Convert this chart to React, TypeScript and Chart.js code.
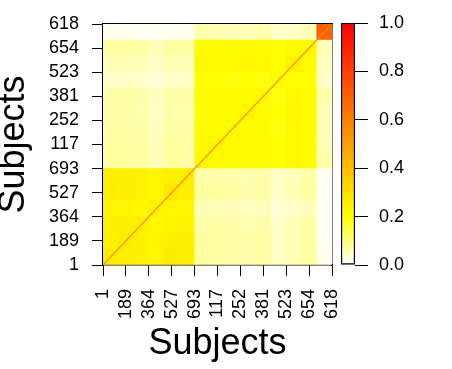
import { useEffect, useRef } from 'react';
import { Chart, registerables } from 'chart.js';

Chart.register(...registerables);

const FONT = "'Liberation Sans', Arial, Helvetica, sans-serif";

// Tick positions (in segment units along the subject ordering) and their labels
const subjectTickPos = [0, 1.5, 3, 4.5, 6, 7.5, 9, 10.5, 12, 13.5, 15];
const subjectTickLabels = ['1', '189', '364', '527', '693', '117', '252', '381', '523', '654', '618'];

// Colour bar ticks
const cbTickPos = [0, 0.2, 0.4, 0.6, 0.8, 1.0];
const cbTickLabels = ['0.0', '0.2', '0.4', '0.6', '0.8', '1.0'];

// Colour map stops (value -> rgb)
const cmapStops = [0, 0.2, 1];
const cmapColors = [
  [255, 255, 255],
  [255, 255, 0],
  [255, 0, 0],
];

// Similarity matrix, 15 x 15 blocks of subjects (rows bottom -> top, columns left -> right)
const heat: number[][] = [
  [0.26, 0.25, 0.24, 0.23, 0.26, 0.25, 0.075, 0.074, 0.070, 0.066, 0.070, 0.044, 0.058, 0.074, 0.015],
  [0.25, 0.26, 0.25, 0.23, 0.25, 0.25, 0.077, 0.072, 0.069, 0.067, 0.071, 0.045, 0.060, 0.075, 0.012],
  [0.24, 0.25, 0.25, 0.22, 0.24, 0.24, 0.070, 0.069, 0.066, 0.062, 0.066, 0.041, 0.056, 0.070, 0.010],
  [0.23, 0.23, 0.22, 0.24, 0.23, 0.23, 0.055, 0.055, 0.052, 0.049, 0.052, 0.032, 0.044, 0.055, 0.010],
  [0.26, 0.25, 0.24, 0.23, 0.27, 0.25, 0.075, 0.076, 0.071, 0.065, 0.069, 0.043, 0.059, 0.073, 0.012],
  [0.25, 0.25, 0.24, 0.23, 0.25, 0.26, 0.069, 0.070, 0.067, 0.062, 0.067, 0.042, 0.055, 0.069, 0.012],
  [0.075, 0.077, 0.070, 0.055, 0.075, 0.069, 0.22, 0.22, 0.21, 0.21, 0.21, 0.20, 0.22, 0.21, 0.065],
  [0.074, 0.072, 0.069, 0.055, 0.076, 0.070, 0.22, 0.23, 0.21, 0.21, 0.21, 0.20, 0.22, 0.21, 0.060],
  [0.070, 0.069, 0.066, 0.052, 0.071, 0.067, 0.21, 0.21, 0.22, 0.21, 0.21, 0.19, 0.22, 0.21, 0.055],
  [0.066, 0.067, 0.062, 0.049, 0.065, 0.062, 0.21, 0.21, 0.21, 0.23, 0.21, 0.20, 0.23, 0.21, 0.055],
  [0.070, 0.071, 0.066, 0.052, 0.069, 0.067, 0.21, 0.21, 0.21, 0.21, 0.22, 0.19, 0.22, 0.21, 0.065],
  [0.044, 0.045, 0.041, 0.032, 0.043, 0.042, 0.20, 0.20, 0.19, 0.20, 0.19, 0.21, 0.20, 0.20, 0.040],
  [0.058, 0.060, 0.056, 0.044, 0.059, 0.055, 0.22, 0.22, 0.22, 0.23, 0.22, 0.20, 0.24, 0.22, 0.045],
  [0.074, 0.075, 0.070, 0.055, 0.073, 0.069, 0.21, 0.21, 0.21, 0.21, 0.21, 0.20, 0.22, 0.22, 0.060],
  [0.015, 0.012, 0.010, 0.010, 0.012, 0.012, 0.065, 0.060, 0.055, 0.055, 0.065, 0.040, 0.045, 0.060, 0.70],
];

// Self-similarity diagonal (from first to last subject)
const diagonal = [
  { x: 0, y: 0 },
  { x: 15, y: 15 },
];

function toColor(v: number): string {
  let k = 0;
  while (k < cmapStops.length - 2 && v > cmapStops[k + 1]) k++;
  const t = Math.max(0, Math.min(1, (v - cmapStops[k]) / (cmapStops[k + 1] - cmapStops[k])));
  const a = cmapColors[k];
  const b = cmapColors[k + 1];
  const c = a.map((av, i) => Math.round(av + (b[i] - av) * t));
  return `rgb(${c[0]},${c[1]},${c[2]})`;
}

export default function App() {
  const mainRef = useRef<HTMLCanvasElement>(null);
  const barRef = useRef<HTMLCanvasElement>(null);

  useEffect(() => {
    const n = heat.length;
    const cellSets: any[] = heat.map((row, i) => ({
      type: 'bar',
      data: row.map((_v, j) => ({ x: j + 0.5, y: [i, i + 1] })),
      backgroundColor: row.map(toColor),
      borderWidth: 0,
      grouped: false,
      barPercentage: 1,
      categoryPercentage: 1,
      order: 1,
    }));
    const lineSet: any = {
      type: 'line',
      data: diagonal,
      borderColor: 'rgba(255,135,25,0.9)',
      borderWidth: 1.3,
      pointRadius: 0,
      order: 0,
    };

    const tickFont = { family: FONT, size: 18 };
    const titleFont = { family: FONT, size: 36 };

    const main = new Chart(mainRef.current as HTMLCanvasElement, {
      type: 'bar',
      data: { datasets: [...cellSets, lineSet] },
      options: {
        responsive: false,
        animation: false,
        devicePixelRatio: 1,
        layout: { padding: { left: 0, top: 24, right: 120, bottom: 0 } },
        plugins: { legend: { display: false }, tooltip: { enabled: false } },
        scales: {
          x: {
            type: 'linear',
            position: 'bottom',
            min: 0,
            max: n,
            offset: false,
            afterFit: (s: any) => {
              s.height = 104;
            },
            afterBuildTicks: (s: any) => {
              s.ticks = subjectTickPos.map((v) => ({ value: v }));
            },
            ticks: {
              autoSkip: false,
              minRotation: 90,
              maxRotation: 90,
              padding: 13,
              color: '#000',
              font: tickFont,
              callback: (_v: any, i: number) => subjectTickLabels[i],
            },
            grid: { offset: false, drawOnChartArea: false, drawTicks: true, tickLength: 11, color: '#000', lineWidth: 1 },
            border: { display: true, color: '#000', width: 1.5 },
            title: {
              display: true,
              text: 'Subjects',
              color: '#000',
              font: { ...titleFont, lineHeight: 1 },
              padding: { top: 0, bottom: 7 },
            },
          },
          y: {
            type: 'linear',
            position: 'left',
            min: 0,
            max: n,
            afterFit: (s: any) => {
              s.width = 103;
            },
            afterBuildTicks: (s: any) => {
              s.ticks = subjectTickPos.map((v) => ({ value: v }));
            },
            ticks: {
              autoSkip: false,
              padding: 13,
              color: '#000',
              font: tickFont,
              callback: (_v: any, i: number) => subjectTickLabels[i],
            },
            grid: { drawOnChartArea: false, drawTicks: true, tickLength: 11, color: '#000', lineWidth: 1 },
            border: { display: true, color: '#000', width: 1.5 },
            title: {
              display: true,
              text: 'Subjects',
              color: '#000',
              font: { ...titleFont, lineHeight: 0.8 },
              padding: { top: 0, bottom: 0 },
            },
          },
          x2: {
            type: 'linear',
            position: 'top',
            min: 0,
            max: n,
            afterFit: (s: any) => {
              s.height = 0;
            },
            ticks: { display: false },
            grid: { drawOnChartArea: false, drawTicks: false },
            border: { display: true, color: '#000', width: 1.5 },
          },
          y2: {
            type: 'linear',
            position: 'right',
            min: 0,
            max: n,
            afterFit: (s: any) => {
              s.width = 0;
            },
            ticks: { display: false },
            grid: { drawOnChartArea: false, drawTicks: false },
            border: { display: true, color: '#000', width: 1.5 },
          },
        },
      } as any,
    });

    const cb = new Chart(barRef.current as HTMLCanvasElement, {
      type: 'bar',
      data: {
        labels: ['scale'],
        datasets: [
          {
            data: [[0, 1]] as any,
            backgroundColor: (ctx: any) => {
              const chart = ctx.chart;
              const ys = chart.scales.y;
              if (!ys || !chart.chartArea) return '#ff0';
              const p0 = ys.getPixelForValue(0);
              const p1 = ys.getPixelForValue(1);
              if (!isFinite(p0) || !isFinite(p1) || p0 === p1) return '#ff0';
              const g = chart.ctx.createLinearGradient(0, p0, 0, p1);
              cmapStops.forEach((s, i) => {
                const c = cmapColors[i];
                g.addColorStop(s, `rgb(${c[0]},${c[1]},${c[2]})`);
              });
              return g;
            },
            borderColor: '#000',
            borderWidth: 1.5,
            borderSkipped: false,
            barPercentage: 1,
            categoryPercentage: 1,
          } as any,
        ],
      },
      options: {
        responsive: false,
        animation: false,
        devicePixelRatio: 1,
        layout: { padding: { left: 11, top: 23, right: 0, bottom: 104 } },
        plugins: { legend: { display: false }, tooltip: { enabled: false } },
        scales: {
          x: { display: false },
          y: {
            position: 'right',
            min: 0,
            max: 1,
            afterFit: (s: any) => {
              s.width = 97;
            },
            afterBuildTicks: (s: any) => {
              s.ticks = cbTickPos.map((v) => ({ value: v }));
            },
            ticks: {
              autoSkip: false,
              padding: 11,
              color: '#000',
              font: tickFont,
              callback: (_v: any, i: number) => cbTickLabels[i],
            },
            grid: { drawOnChartArea: false, drawTicks: true, tickLength: 13, color: '#000', lineWidth: 1 },
            border: { display: false },
          },
        },
      } as any,
    });

    return () => {
      main.destroy();
      cb.destroy();
    };
  }, []);

  return (
    <div style={{ position: 'absolute', left: 0, top: 0, width: 452, height: 369, background: '#fff' }}>
      <canvas ref={mainRef} width={452} height={369} style={{ position: 'absolute', left: 0, top: 0 }} />
      <canvas ref={barRef} width={122} height={369} style={{ position: 'absolute', left: 330, top: 0 }} />
    </div>
  );
}
